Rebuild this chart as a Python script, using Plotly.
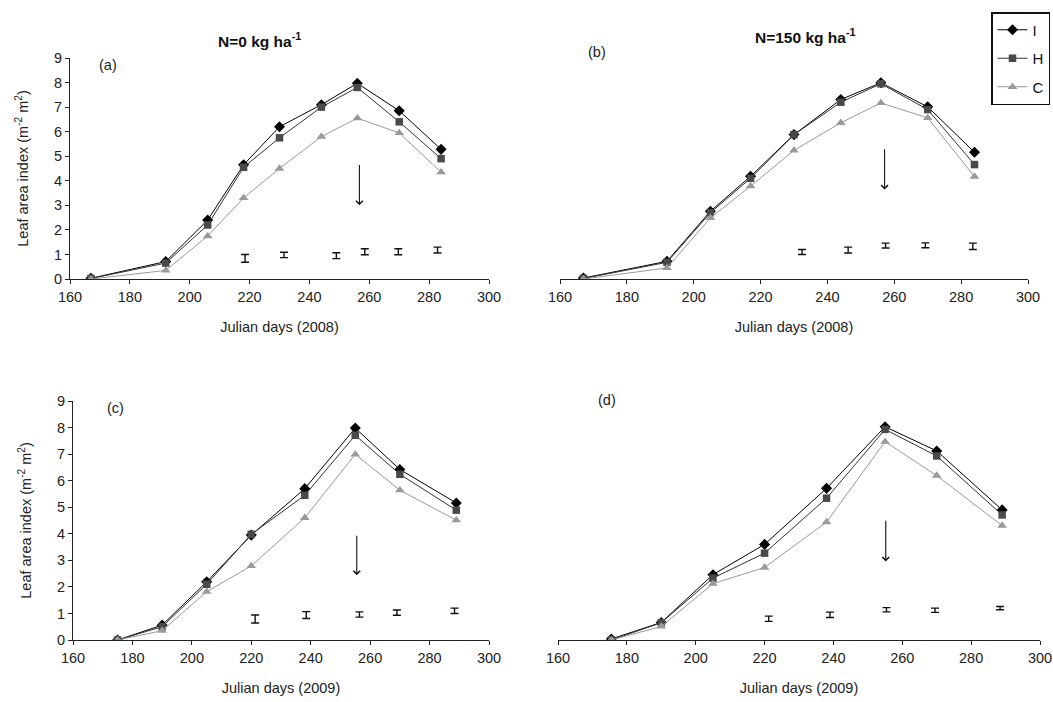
import plotly.graph_objects as go

# ---------------- data ----------------
days_a = [167, 192, 206, 218, 230, 244, 256, 270, 284]
I_a = [0.03, 0.71, 2.4, 4.65, 6.2, 7.1, 7.97, 6.85, 5.28]
H_a = [0.02, 0.65, 2.2, 4.55, 5.75, 7.0, 7.8, 6.4, 4.9]
C_a = [0.0, 0.35, 1.75, 3.3, 4.5, 5.8, 6.55, 5.95, 4.35]
err_x_a = [218.5, 231.5, 249, 258.5, 269.7, 282.8]
err_y_a = [0.84, 0.98, 0.95, 1.11, 1.11, 1.18]
err_h_a = [0.16, 0.11, 0.12, 0.12, 0.12, 0.12]

days_b = [167, 192, 205, 217, 230, 244, 256, 270, 284]
I_b = [0.04, 0.72, 2.76, 4.18, 5.88, 7.31, 7.99, 7.01, 5.16]
H_b = [0.02, 0.68, 2.7, 4.1, 5.88, 7.2, 7.95, 6.9, 4.66]
C_b = [0.0, 0.45, 2.49, 3.78, 5.24, 6.36, 7.17, 6.56, 4.17]
err_x_b = [232.4, 246.2, 257.4, 269.3, 283.5]
err_y_b = [1.1, 1.18, 1.36, 1.37, 1.33]
err_h_b = [0.1, 0.12, 0.1, 0.1, 0.13]

days_c = [175, 190, 205, 220, 238, 255, 270, 289]
I_c = [0.0, 0.56, 2.19, 3.95, 5.7, 7.98, 6.42, 5.16]
H_c = [0.0, 0.5, 2.1, 3.98, 5.45, 7.71, 6.24, 4.89]
C_c = [0.0, 0.35, 1.82, 2.79, 4.6, 6.99, 5.64, 4.51]
err_x_c = [221.3, 238.5, 256.4, 269.0, 288.4]
err_y_c = [0.79, 0.94, 0.96, 1.03, 1.1]
err_h_c = [0.15, 0.13, 0.1, 0.1, 0.1]

days_d = [175.5, 190, 205, 220, 238, 255, 270, 289]
I_d = [0.04, 0.66, 2.46, 3.6, 5.71, 8.03, 7.12, 4.9]
H_d = [0.0, 0.65, 2.33, 3.27, 5.34, 7.93, 6.93, 4.71]
C_d = [0.0, 0.51, 2.12, 2.73, 4.44, 7.47, 6.19, 4.31]
err_x_d = [221.2, 239.0, 255.4, 269.5, 288.4]
err_y_d = [0.8, 0.95, 1.14, 1.12, 1.2]
err_h_d = [0.1, 0.1, 0.08, 0.08, 0.06]

# arrows: [day, top value, head value]
arrow_a = [256.7, 4.7, 3.0]
arrow_b = [257.1, 5.34, 3.64]
arrow_c = [255.5, 3.98, 2.44]
arrow_d = [255.2, 4.55, 2.96]

series_names = ["I", "H", "C"]
panel_labels = ["(a)", "(b)", "(c)", "(d)"]
titles = ["N=0 kg ha<sup>-1</sup>", "N=150 kg ha<sup>-1</sup>"]
x_titles = ["Julian days (2008)", "Julian days (2008)", "Julian days (2009)", "Julian days (2009)"]
y_title = "Leaf area index (m<sup>-2</sup> m<sup>2</sup>)"
x_ticks = [160, 180, 200, 220, 240, 260, 280, 300]
y_ticks = [0, 1, 2, 3, 4, 5, 6, 7, 8, 9]

# ---------------- styling ----------------
FONT = "Liberation Sans, Arial, sans-serif"
styles = {
    "I": dict(line=dict(color="#000000", width=1), marker=dict(symbol="diamond", size=8.5, color="#000000")),
    "H": dict(line=dict(color="#333333", width=1), marker=dict(symbol="square", size=7.5, color="#4a4a4a")),
    "C": dict(line=dict(color="#999999", width=1), marker=dict(symbol="triangle-up", size=8.5, color="#9a9a9a")),
}

W, H = 1053, 702
def px_x(p):
    return p / W
def px_y(p):
    return 1 - p / H

domains = [
    dict(x=[px_x(70), px_x(489)], y=[px_y(279), px_y(58)]),
    dict(x=[px_x(560), px_x(1028)], y=[px_y(279), px_y(58)]),
    dict(x=[px_x(73), px_x(489)], y=[px_y(640), px_y(401)]),
    dict(x=[px_x(558), px_x(1040)], y=[px_y(640), px_y(401)]),
]

panels = [
    (days_a, I_a, H_a, C_a, err_x_a, err_y_a, err_h_a, arrow_a),
    (days_b, I_b, H_b, C_b, err_x_b, err_y_b, err_h_b, arrow_b),
    (days_c, I_c, H_c, C_c, err_x_c, err_y_c, err_h_c, arrow_c),
    (days_d, I_d, H_d, C_d, err_x_d, err_y_d, err_h_d, arrow_d),
]

fig = go.Figure()
annotations = []
layout = {}
for k, (days, Iv, Hv, Cv, ex, ey, eh, arr) in enumerate(panels):
    n = k + 1
    xa = "x" if n == 1 else f"x{n}"
    ya = "y" if n == 1 else f"y{n}"
    for name, vals in zip(series_names, [Iv, Hv, Cv]):
        st = styles[name]
        fig.add_trace(go.Scatter(
            x=days, y=vals, mode="lines+markers", name=name,
            line=st["line"], marker=st["marker"],
            xaxis=xa, yaxis=ya, showlegend=(n == 2), legendgroup=name,
        ))
    fig.add_trace(go.Scatter(
        x=ex, y=ey, mode="markers",
        marker=dict(size=1, color="rgba(0,0,0,0)"),
        error_y=dict(type="data", array=eh, visible=True, color="#111111", thickness=1.4, width=4),
        xaxis=xa, yaxis=ya, showlegend=False, hoverinfo="skip",
    ))
    annotations.append(dict(
        x=arr[0], y=arr[2], ax=arr[0], ay=arr[1], xref=xa, yref=ya, axref=xa, ayref=ya,
        showarrow=True, arrowhead=4, arrowsize=1.2, arrowwidth=1.1, arrowcolor="#111111", text="",
    ))
    dom = domains[k]
    show_y = n in (1, 3)
    layout["xaxis" if n == 1 else f"xaxis{n}"] = dict(
        domain=dom["x"], anchor=ya, range=[160, 300], tickvals=x_ticks, automargin=False,
        ticks="outside", ticklen=4, tickwidth=1, tickcolor="#222",
        showline=True, linecolor="#222", linewidth=1.2, showgrid=False, zeroline=False,
        tickfont=dict(family=FONT, size=14.5, color="#222"),
        title=dict(text=x_titles[k], font=dict(family=FONT, size=14.5, color="#222"), standoff=18),
    )
    layout["yaxis" if n == 1 else f"yaxis{n}"] = dict(
        domain=dom["y"], anchor=xa, range=[0, 9], tickvals=y_ticks, automargin=False,
        ticks="outside" if show_y else "", ticklen=4, tickwidth=1, tickcolor="#222",
        showline=show_y, linecolor="#222", linewidth=1.2, showgrid=False, zeroline=False,
        showticklabels=show_y,
        tickfont=dict(family=FONT, size=14.5, color="#222"),
        title=dict(text=y_title if show_y else "", font=dict(family=FONT, size=14.5, color="#222"), standoff=21),
    )

# panel letters
label_pos = [(108, 65), (597, 52), (115, 408), (607, 400)]
for lab, (lx, ly) in zip(panel_labels, label_pos):
    annotations.append(dict(text=lab, x=px_x(lx), y=px_y(ly), xref="paper", yref="paper",
                            xanchor="center", yanchor="middle",
                            showarrow=False, font=dict(family=FONT, size=14.5, color="#222")))
# titles
for t, (tx, ty) in zip(titles, [(259, 40), (805, 36)]):
    annotations.append(dict(text=f"<b>{t}</b>", x=px_x(tx), y=px_y(ty), xref="paper", yref="paper",
                            xanchor="center", yanchor="middle",
                            showarrow=False, font=dict(family=FONT, size=15.5, color="#111")))

fig.update_layout(
    width=W, height=H, margin=dict(l=0, r=0, t=0, b=0),
    paper_bgcolor="white", plot_bgcolor="white",
    annotations=annotations,
    legend=dict(x=px_x(1050), y=px_y(12), xanchor="right", yanchor="top",
                bordercolor="#111", borderwidth=1.5, bgcolor="white",
                font=dict(family=FONT, size=15, color="#111"),
                itemwidth=30, tracegroupgap=6),
    **layout,
)

fig.write_html("out.html", config={"displayModeBar": False},
               post_script="document.body.style.margin='0';")
